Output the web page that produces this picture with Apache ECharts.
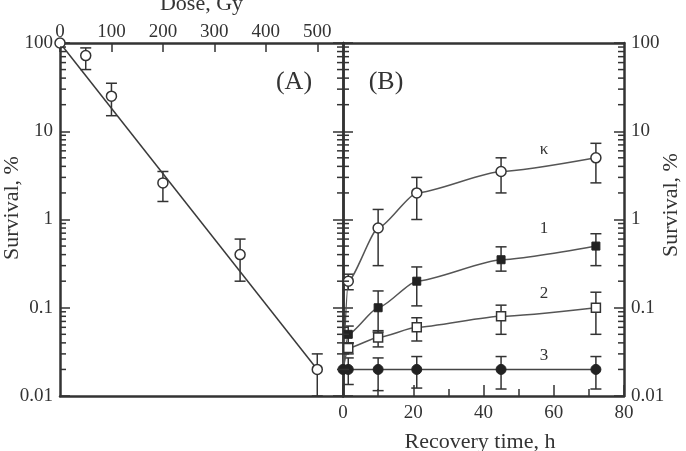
<!DOCTYPE html>
<html><head><meta charset="utf-8">
<script src="https://cdn.jsdelivr.net/npm/echarts@6/dist/echarts.min.js"></script>
<style>html,body{margin:0;padding:0;background:#fff}#c{width:686px;height:451px}</style>
</head><body><div id="c"></div>
<script>
// ---- Panel A: survival vs dose ----
const doseA = [0, 50, 100, 200, 350, 500];
const survA = [100, 72, 25, 2.6, 0.4, 0.02];
const survALow = [null, 50, 15, 1.6, 0.2, 0.01];
const survAHigh = [null, 88, 35, 3.5, 0.6, 0.03];
const fitDose = [0, 500];
const fitSurv = [100, 0.02];

// ---- Panel B: survival vs recovery time ----
const timeB = [0, 1.5, 10, 21, 45, 72];
const kappa = [0.02, 0.2, 0.8, 2.0, 3.5, 5.0];
const kappaLow = [null, 0.16, 0.3, 1.0, 2.0, 2.6];
const kappaHigh = [null, 0.24, 1.3, 3.0, 5.0, 7.3];
const strain1 = [0.02, 0.05, 0.1, 0.2, 0.35, 0.5];
const strain1Low = [null, 0.04, 0.053, 0.105, 0.26, 0.3];
const strain1High = [null, 0.062, 0.155, 0.29, 0.49, 0.69];
const strain2 = [0.02, 0.035, 0.046, 0.06, 0.08, 0.1];
const strain2Low = [null, 0.03, 0.036, 0.042, 0.05, 0.05];
const strain2High = [null, 0.04, 0.055, 0.077, 0.107, 0.15];
const strain3 = [0.02, 0.02, 0.02, 0.02, 0.02, 0.02];
const strain3Low = [null, 0.0135, 0.0115, 0.0123, 0.012, 0.012];
const strain3High = [null, 0.027, 0.027, 0.028, 0.028, 0.028];

// ---- axis decoration ----
const minorTickValues = [0.02,0.03,0.04,0.05,0.06,0.07,0.08,0.09,
  0.2,0.3,0.4,0.5,0.6,0.7,0.8,0.9, 2,3,4,5,6,7,8,9, 20,30,40,50,60,70,80,90];
const curveLabels = ['κ', '1', '2', '3'];

const FONT = '"Liberation Serif", "Times New Roman", serif';
const INK = '#333';

function pairs(xs, ys) { return xs.map((x, i) => [x, ys[i]]); }
function errData(xs, lo, hi) {
  const out = [];
  xs.forEach((x, i) => { if (lo[i] != null && hi[i] != null) out.push([x, lo[i], hi[i]]); });
  return out;
}
function errSeries(xi, yi, data) {
  return {
    type: 'custom', xAxisIndex: xi, yAxisIndex: yi, z: 2, silent: true, clip: false,
    data: data, encode: { x: 0, y: [1, 2] },
    renderItem: function (params, api) {
      const x = api.value(0), lo = api.value(1), hi = api.value(2);
      const a = api.coord([x, lo]), b = api.coord([x, hi]);
      const w = 5.5, st = { stroke: INK, lineWidth: 1.5 };
      return { type: 'group', children: [
        { type: 'line', shape: { x1: a[0], y1: a[1], x2: b[0], y2: b[1] }, style: st },
        { type: 'line', shape: { x1: a[0] - w, y1: a[1], x2: a[0] + w, y2: a[1] }, style: st },
        { type: 'line', shape: { x1: b[0] - w, y1: b[1], x2: b[0] + w, y2: b[1] }, style: st }
      ]};
    }
  };
}
function minorTicks(xi, yi, xEdge, dir) {
  return {
    type: 'custom', xAxisIndex: xi, yAxisIndex: yi, z: 6, silent: true, clip: false,
    data: minorTickValues.map(v => [xEdge, v]), encode: { x: 0, y: 1 },
    renderItem: function (params, api) {
      const p = api.coord([api.value(0), api.value(1)]);
      return { type: 'line', shape: { x1: p[0], y1: p[1], x2: p[0] + dir * 6, y2: p[1] },
        style: { stroke: INK, lineWidth: 1.5 } };
    }
  };
}
const axisLine = { show: true, onZero: false, lineStyle: { color: INK, width: 2.5 } };
const labelStyle = { fontFamily: FONT, fontSize: 19, color: INK };
const nameStyle = { fontFamily: FONT, fontSize: 22, color: INK };

function logY(gi, pos, showLabel, extra) {
  return Object.assign({
    type: 'log', logBase: 10, gridIndex: gi, position: pos, min: 0.01, max: 100,
    axisLine: axisLine, splitLine: { show: false },
    axisTick: { show: true, inside: true, length: 10, lineStyle: { color: INK, width: 1.5 } },
    axisLabel: Object.assign({ show: showLabel, margin: 7 }, labelStyle)
  }, extra || {});
}

const option = {
  animation: false,
  backgroundColor: '#fff',
  grid: [
    { left: 60, top: 43, width: 283, height: 353, containLabel: false, outerBoundsMode: 'none' },
    { left: 343, top: 43, width: 281, height: 353, containLabel: false, outerBoundsMode: 'none' }
  ],
  xAxis: [
    { type: 'value', gridIndex: 0, position: 'top', min: 0, max: 550, interval: 100,
      axisLine: axisLine, splitLine: { show: false },
      axisTick: { inside: true, length: 9, lineStyle: { color: INK, width: 1.5 } },
      axisLabel: Object.assign({ margin: 1, showMaxLabel: false }, labelStyle),
      name: 'Dose, Gy', nameLocation: 'middle', nameGap: 28, nameMoveOverlap: false, nameTextStyle: nameStyle },
    { type: 'value', gridIndex: 0, position: 'bottom', min: 0, max: 550,
      axisLine: axisLine, axisTick: { show: false }, axisLabel: { show: false }, splitLine: { show: false } },
    { type: 'value', gridIndex: 1, position: 'bottom', min: 0, max: 80, interval: 20,
      axisLine: axisLine, splitLine: { show: false },
      axisTick: { inside: true, length: 11, lineStyle: { color: INK, width: 1.5 } },
      minorTick: { show: true, splitNumber: 2, length: 7, lineStyle: { color: INK, width: 1.5 } },
      axisLabel: Object.assign({ margin: 8 }, labelStyle),
      name: 'Recovery time, h', nameLocation: 'middle', nameGap: 35, nameMoveOverlap: false,
      nameTextStyle: Object.assign({ padding: [0, 7, 0, 0] }, nameStyle) },
    { type: 'value', gridIndex: 1, position: 'top', min: 0, max: 80,
      axisLine: axisLine, axisTick: { show: false }, axisLabel: { show: false }, splitLine: { show: false } }
  ],
  yAxis: [
    logY(0, 'left', true, { name: 'Survival, %', nameLocation: 'middle', nameGap: 37, nameMoveOverlap: false,
      nameTextStyle: Object.assign({ padding: [0, 0, 0, 23] }, nameStyle) }),
    logY(1, 'left', false),
    logY(0, 'right', false),
    logY(1, 'right', true, { name: 'Survival, %', nameLocation: 'middle', nameGap: 36, nameMoveOverlap: false,
      nameTextStyle: Object.assign({ padding: [0, 0, 0, 29] }, nameStyle) })
  ],
  graphic: [
    { type: 'text', x: 294, y: 82, style: { text: '(A)', font: '26px ' + FONT, fill: INK, align: 'center', verticalAlign: 'middle' } },
    { type: 'text', x: 386, y: 82, style: { text: '(B)', font: '26px ' + FONT, fill: INK, align: 'center', verticalAlign: 'middle' } },
    { type: 'text', x: 544, y: 150, style: { text: curveLabels[0], font: '17px ' + FONT, fill: INK, align: 'center', verticalAlign: 'middle' } },
    { type: 'text', x: 544, y: 229, style: { text: curveLabels[1], font: '17px ' + FONT, fill: INK, align: 'center', verticalAlign: 'middle' } },
    { type: 'text', x: 544, y: 294, style: { text: curveLabels[2], font: '17px ' + FONT, fill: INK, align: 'center', verticalAlign: 'middle' } },
    { type: 'text', x: 544, y: 356, style: { text: curveLabels[3], font: '17px ' + FONT, fill: INK, align: 'center', verticalAlign: 'middle' } }
  ],
  series: [
    minorTicks(0, 0, 0, 1),
    minorTicks(0, 2, 550, -1),
    minorTicks(2, 1, 0, 1),
    minorTicks(2, 3, 80, -1),
    // Panel A
    errSeries(0, 0, errData(doseA, survALow, survAHigh)),
    { type: 'line', xAxisIndex: 0, yAxisIndex: 0, data: pairs(fitDose, fitSurv), symbol: 'none', z: 3,
      lineStyle: { color: '#3a3a3a', width: 1.5 } },
    { type: 'scatter', xAxisIndex: 0, yAxisIndex: 0, data: pairs(doseA, survA), clip: false, z: 4,
      symbol: 'circle', symbolSize: 10, itemStyle: { color: '#fff', borderColor: INK, borderWidth: 1.5, opacity: 1 } },
    // Panel B error bars
    errSeries(2, 1, errData(timeB, kappaLow, kappaHigh)),
    errSeries(2, 1, errData(timeB, strain1Low, strain1High)),
    errSeries(2, 1, errData(timeB, strain2Low, strain2High)),
    errSeries(2, 1, errData(timeB, strain3Low, strain3High)),
    // Panel B curves
    { type: 'line', name: 'κ', xAxisIndex: 2, yAxisIndex: 1, data: pairs(timeB, kappa), smooth: 0.2, smoothMonotone: 'x',
      z: 3, clip: false, symbol: 'circle', symbolSize: (v, p) => p.dataIndex === 0 ? 0 : 10, showAllSymbol: true,
      lineStyle: { color: '#555', width: 1.5 }, itemStyle: { color: '#fff', borderColor: INK, borderWidth: 1.5 } },
    { type: 'line', name: '1', xAxisIndex: 2, yAxisIndex: 1, data: pairs(timeB, strain1), smooth: 0.2, smoothMonotone: 'x',
      z: 3, clip: false, symbol: 'rect', symbolSize: (v, p) => p.dataIndex === 0 ? 0 : 8, showAllSymbol: true,
      lineStyle: { color: '#555', width: 1.5 }, itemStyle: { color: '#222', borderColor: '#222', borderWidth: 1 } },
    { type: 'line', name: '2', xAxisIndex: 2, yAxisIndex: 1, data: pairs(timeB, strain2), smooth: 0.2, smoothMonotone: 'x',
      z: 3, clip: false, symbol: 'rect', symbolSize: (v, p) => p.dataIndex === 0 ? 0 : 9, showAllSymbol: true,
      lineStyle: { color: '#555', width: 1.5 }, itemStyle: { color: '#fff', borderColor: INK, borderWidth: 1.5 } },
    { type: 'line', name: '3', xAxisIndex: 2, yAxisIndex: 1, data: pairs(timeB, strain3),
      z: 4, clip: false, symbol: 'circle', symbolSize: 10, showAllSymbol: true,
      lineStyle: { color: '#444', width: 1.5 }, itemStyle: { color: '#222', borderColor: '#222', borderWidth: 1 } }
  ]
};
const chart = echarts.init(document.getElementById('c'), null, { renderer: 'canvas' });
chart.setOption(option);
</script>
</body></html>
